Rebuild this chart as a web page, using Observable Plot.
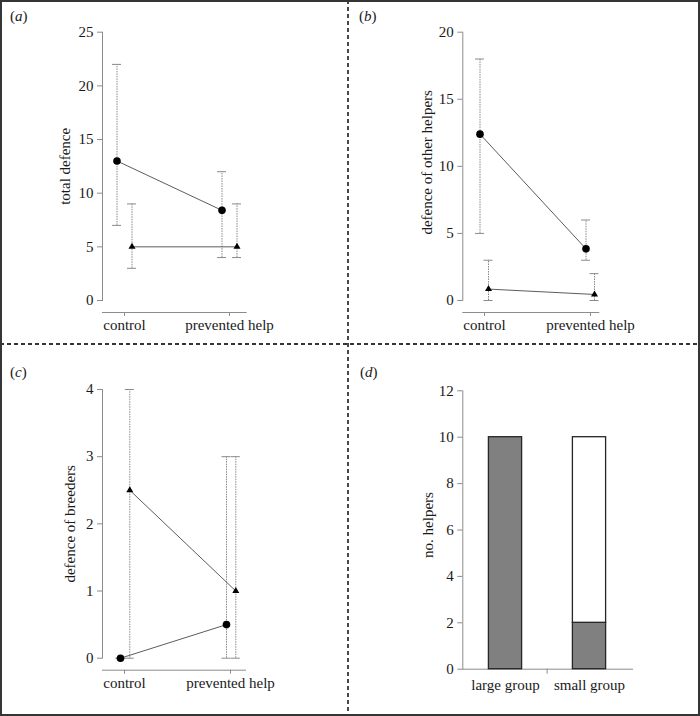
<!DOCTYPE html>
<html><head><meta charset="utf-8">
<script src="https://cdn.jsdelivr.net/npm/d3@7"></script>
<script src="https://cdn.jsdelivr.net/npm/@observablehq/plot@0.6"></script>
<style>
body{margin:0;background:#fff;}
#wrap{position:relative;width:700px;height:716px;overflow:hidden;background:#fff;font-family:"Liberation Serif","Times New Roman",Times,"Nimbus Roman","DejaVu Serif",serif;}
.panel{position:absolute;}
.panel svg, .panel svg text{font-family:"Liberation Serif","Times New Roman",Times,"Nimbus Roman","DejaVu Serif",serif !important;}
.tag{position:absolute;font-size:15px;line-height:15px;color:#1a1a1a;}
</style></head><body><div id="wrap"></div>
<script>
// ---------- data ----------
const treatments = ["control", "prevented help"];
const aCircleMean = [13.0, 8.4], aCircleLow = [7, 4], aCircleHigh = [22, 12];
const aTriMean = [5, 5], aTriLow = [3, 4], aTriHigh = [9, 9];
const bCircleMean = [12.4, 3.85], bCircleLow = [5, 3], bCircleHigh = [18, 6];
const bTriMean = [0.85, 0.45], bTriLow = [0, 0], bTriHigh = [3, 2];
const cCircleMean = [0, 0.5], cCircleLow = [0, 0], cCircleHigh = [0, 3];
const cTriMean = [2.5, 1.0], cTriLow = [0, 0], cTriHigh = [4, 3];
const groups = ["large group", "small group"];
const dGrey = [10, 2];
const dWhite = [0, 8];
const aTicks = [0, 5, 10, 15, 20, 25];
const bTicks = [0, 5, 10, 15, 20];
const cTicks = [0, 1, 2, 3, 4];
const dTicks = [0, 2, 4, 6, 8, 10, 12];
const yLabels = ["total defence", "defence of other helpers", "defence of breeders", "no. helpers"];

// ---------- styles ----------
const FONT = '"Liberation Serif","Times New Roman",Times,"Nimbus Roman","DejaVu Serif",serif';
const axisGrey = "#8c8c8c";
const errGrey = "#8a8a8a";
const textCol = "#1a1a1a";
const barGrey = "#808084";
const fmt = d => String(d);

const rows = (mean, low, high) => treatments.map((t, i) => ({t, m: mean[i], lo: low[i], hi: high[i]}));

function errMarks(data, dx) {
  return [
    Plot.ruleX(data, {x: "t", y1: "lo", y2: "hi", dx, stroke: errGrey, strokeWidth: 1, strokeDasharray: "1.5,1"}),
    Plot.ruleY(data, {x1: "t", x2: "t", y: "lo", dx, insetLeft: -4.5, insetRight: -4.5, stroke: errGrey, strokeWidth: 1}),
    Plot.ruleY(data, {x1: "t", x2: "t", y: "hi", dx, insetLeft: -4.5, insetRight: -4.5, stroke: errGrey, strokeWidth: 1}),
    Plot.line(data, {x: "t", y: "m", dx, stroke: "#4a4a4a", strokeWidth: 0.9})
  ];
}

function linePanel(o) {
  const circ = rows(...o.circ), tri = rows(...o.tri);
  return Plot.plot({
    width: o.w, height: o.h,
    marginTop: o.mt, marginBottom: o.mb, marginLeft: o.ml, marginRight: o.mr,
    style: {fontFamily: FONT, fontSize: "15px", color: textCol, background: "transparent", overflow: "visible"},
    x: {type: "point", domain: treatments, range: o.xr, padding: 0, axis: null},
    y: {domain: o.yDomain, axis: null},
    marks: [
      Plot.frame({anchor: "left", stroke: axisGrey}),
      Plot.frame({anchor: "bottom", stroke: axisGrey, dy: 12}),
      Plot.axisY({ticks: o.ticks, tickFormat: fmt, tickSize: 5, tickPadding: 4, stroke: axisGrey, label: null}),
      Plot.axisX({tickSize: 4, tickPadding: 3, dy: 12, stroke: axisGrey, label: null}),
      Plot.text([o.ylabel], {frameAnchor: "left", rotate: -90, dx: o.ldx, dy: o.ldy, textAnchor: "middle", fill: textCol}),
      ...errMarks(circ, o.cdx),
      ...errMarks(tri, o.tdx),
      Plot.dot(circ, {x: "t", y: "m", dx: o.cdx, r: 3.8, symbol: "circle", fill: "#000"}),
      Plot.dot(tri, {x: "t", y: "m", dx: o.tdx, r: 2.6, symbol: "triangle", fill: "#000"})
    ]
  });
}

const wrap = document.getElementById("wrap");
function place(node, left, top) {
  const d = document.createElement("div");
  d.className = "panel";
  d.style.left = left + "px"; d.style.top = top + "px";
  d.appendChild(node);
  wrap.appendChild(d);
}
function tag(letter, left, top) {
  const d = document.createElement("div");
  d.className = "tag";
  d.style.left = left + "px"; d.style.top = top + "px";
  d.innerHTML = "(<i>" + letter + "</i>)";
  wrap.appendChild(d);
}

// panel a
place(linePanel({w: 348, h: 344, mt: 31.7, mb: 44, ml: 102, mr: 102.3, xr: [124, 229.3],
  yDomain: [0, 25], ticks: aTicks, ylabel: yLabels[0], ldx: -37, ldy: 0,
  circ: [aCircleMean, aCircleLow, aCircleHigh], tri: [aTriMean, aTriLow, aTriHigh], cdx: -7.5, tdx: 7.5}), 0, 0);
// panel b
place(linePanel({w: 352, h: 344, mt: 31.7, mb: 44, ml: 114.3, mr: 101.7, xr: [135.3, 242],
  yDomain: [0, 20], ticks: bTicks, ylabel: yLabels[1], ldx: -35.6, ldy: -4,
  circ: [bCircleMean, bCircleLow, bCircleHigh], tri: [bTriMean, bTriLow, bTriHigh], cdx: -4.5, tdx: 4}), 348, 0);
// panel c
place(linePanel({w: 348, h: 372, mt: 45, mb: 58.3, ml: 102, mr: 103, xr: [124, 230],
  yDomain: [0, 4], ticks: cTicks, ylabel: yLabels[2], ldx: -32, ldy: 0,
  circ: [cCircleMean, cCircleLow, cCircleHigh], tri: [cTriMean, cTriLow, cTriHigh], cdx: -4, tdx: 5.3}), 0, 344);

// panel d
const dRows = [];
groups.forEach((g, i) => {
  dRows.push({g, part: "grey", n: dGrey[i]});
  dRows.push({g, part: "white", n: dWhite[i]});
});
const dPlot = Plot.plot({
  width: 352, height: 372,
  marginTop: 46.3, marginBottom: 47.3, marginLeft: 114.3, marginRight: 68,
  style: {fontFamily: FONT, fontSize: "15px", color: textCol, background: "transparent", overflow: "visible"},
  x: {type: "band", domain: groups, padding: 0, axis: null},
  y: {domain: [0, 12], axis: null},
  color: {domain: ["grey", "white"], range: [barGrey, "#ffffff"]},
  marks: [
    Plot.frame({anchor: "left", stroke: axisGrey}),
    Plot.frame({anchor: "bottom", stroke: axisGrey}),
    Plot.axisY({ticks: dTicks, tickFormat: fmt, tickSize: 5, tickPadding: 4, stroke: axisGrey, label: null}),
    Plot.axisX({tickSize: 0, tickPadding: 10, label: null}),
    Plot.ruleX(["small group"], {x: d => d, y1: 0, y2: 0, insetBottom: -5, dx: -42.4, stroke: axisGrey}),
    Plot.text([yLabels[3]], {frameAnchor: "left", rotate: -90, dx: -35, dy: -5, textAnchor: "middle", fill: textCol}),
    Plot.barY(dRows, {x: "g", y: "n", fill: "part", stroke: "#262626", strokeWidth: 1.3, insetLeft: 25.4, insetRight: 25.4})
  ]
});
place(dPlot, 348, 344);

tag("a", 10, 9);
tag("b", 359, 9);
tag("c", 10, 365);
tag("d", 360, 365);

// frame border + dashed dividers
const ns = "http://www.w3.org/2000/svg";
const ov = document.createElementNS(ns, "svg");
ov.setAttribute("width", 700); ov.setAttribute("height", 716);
ov.style.position = "absolute"; ov.style.left = "0"; ov.style.top = "0"; ov.style.pointerEvents = "none";
ov.innerHTML = '<rect x="1" y="1" width="698" height="714" fill="none" stroke="#353535" stroke-width="2"/>' +
  '<line x1="348" y1="0" x2="348" y2="716" stroke="#353535" stroke-width="1.8" stroke-dasharray="4,3"/>' +
  '<line x1="0" y1="344" x2="700" y2="344" stroke="#353535" stroke-width="1.8" stroke-dasharray="4,3"/>';
wrap.appendChild(ov);
</script></body></html>
